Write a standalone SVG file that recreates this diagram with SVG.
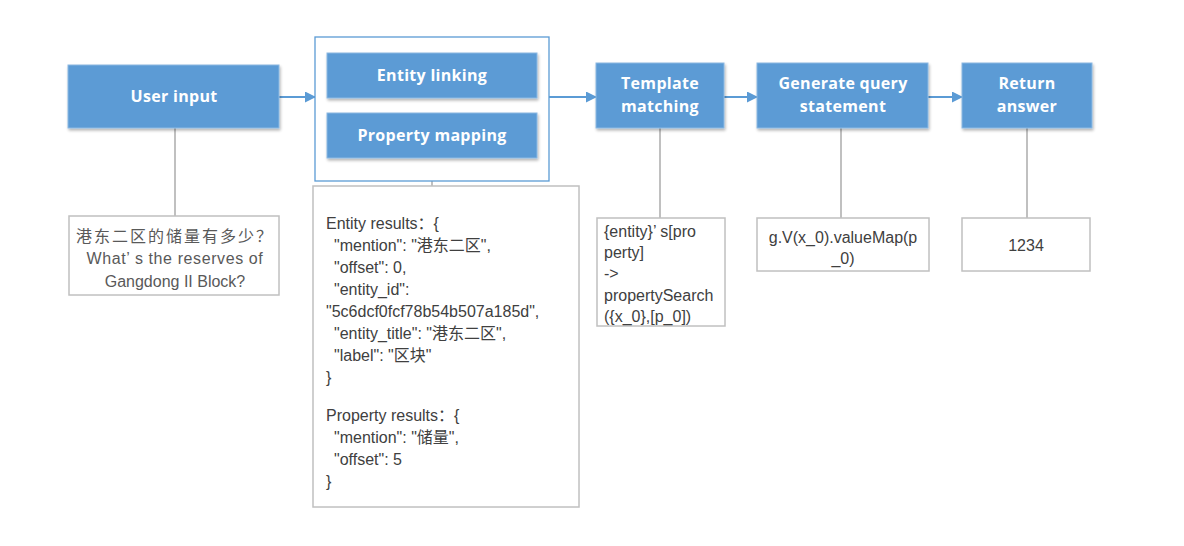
<svg xmlns="http://www.w3.org/2000/svg" width="1184" height="546" viewBox="0 0 1184 546">
<defs>
<marker id="arr" markerWidth="11" markerHeight="11" refX="10" refY="5.5" orient="auto" markerUnits="userSpaceOnUse">
<path d="M0,0 L11,5.5 L0,11 Z" fill="#5b9bd5"/>
</marker>
<filter id="sh" x="-10%" y="-10%" width="130%" height="140%">
<feGaussianBlur in="SourceAlpha" stdDeviation="1.5"/>
<feOffset dx="1" dy="2" result="b"/>
<feComponentTransfer><feFuncA type="linear" slope="0.3"/></feComponentTransfer>
<feMerge><feMergeNode/><feMergeNode in="SourceGraphic"/></feMerge>
</filter>
<style>
.blue{fill:#5b9bd5;stroke:#8cb8e2;stroke-width:1;filter:url(#sh)}
.grp{fill:#ffffff;stroke:#5b9bd5;stroke-width:1.3}
.gray{fill:#ffffff;stroke:#c0c0c0;stroke-width:1.5}
.bt{font-family:"Open Sans","Liberation Sans",sans-serif;font-weight:bold;font-size:16px;letter-spacing:0.3px;fill:#ffffff;text-anchor:middle}
.gt{font-family:"Liberation Sans","Noto Sans CJK SC",sans-serif;font-size:16px;fill:#404040}
.qt{font-family:"Liberation Sans","Noto Sans CJK SC",sans-serif;font-size:16px;fill:#595959;text-anchor:middle}
.ln{stroke:#c0c0c0;stroke-width:2;fill:none}
.ar{stroke:#5b9bd5;stroke-width:2;fill:none;marker-end:url(#arr)}
</style>
</defs>
<rect width="1184" height="546" fill="#ffffff"/>
<g id="connectors">
<line class="ar" x1="279" y1="97" x2="315" y2="97"/>
<line class="ar" x1="549" y1="97" x2="596" y2="97"/>
<line class="ar" x1="724" y1="97" x2="757" y2="97"/>
<line class="ar" x1="928" y1="97" x2="962" y2="97"/>
<line class="ln" x1="175" y1="128" x2="175" y2="216"/>
<line class="ln" x1="432" y1="181" x2="432" y2="186"/>
<line class="ln" x1="660" y1="128" x2="660" y2="218"/>
<line class="ln" x1="841" y1="128" x2="841" y2="218"/>
<line class="ln" x1="1027" y1="128" x2="1027" y2="218"/>
</g>
<g id="user-input">
<rect class="blue" x="68" y="65" width="211" height="63"/>
<text class="bt" x="174" y="102">User input</text>
</g>
<g id="linking-group">
<rect class="grp" x="315" y="37" width="234" height="144"/>
<g id="entity-linking">
<rect class="blue" x="327" y="53" width="210" height="45"/>
<text class="bt" x="432" y="81">Entity linking</text>
</g>
<g id="property-mapping">
<rect class="blue" x="327" y="113" width="210" height="45"/>
<text class="bt" x="432" y="141">Property mapping</text>
</g>
</g>
<g id="template-matching">
<rect class="blue" x="596" y="63" width="128" height="65"/>
<text class="bt" x="660" y="89">Template</text>
<text class="bt" x="660" y="112">matching</text>
</g>
<g id="generate-query">
<rect class="blue" x="757" y="63" width="171" height="65"/>
<text class="bt" x="843" y="89">Generate query</text>
<text class="bt" x="843" y="112">statement</text>
</g>
<g id="return-answer">
<rect class="blue" x="962" y="63" width="130" height="65"/>
<text class="bt" x="1027" y="89">Return</text>
<text class="bt" x="1027" y="112">answer</text>
</g>
<g id="question">
<rect class="gray" x="69" y="216" width="210" height="79"/>
<text class="qt" x="175" y="242" letter-spacing="2">港东二区的储量有多少？</text>
<text class="qt" x="175" y="264" letter-spacing="0.6">What’ s the reserves of</text>
<text class="qt" x="175" y="287">Gangdong II Block?</text>
</g>
<g id="entity-results">
<rect class="gray" x="313" y="186" width="266" height="321"/>
<text class="gt" x="326" y="229">Entity results：{</text>
<text class="gt" x="334" y="251">"mention": "港东二区",</text>
<text class="gt" x="334" y="273">"offset": 0,</text>
<text class="gt" x="334" y="295">"entity_id":</text>
<text class="gt" x="326" y="317">"5c6dcf0fcf78b54b507a185d",</text>
<text class="gt" x="334" y="339">"entity_title": "港东二区",</text>
<text class="gt" x="334" y="361">"label": "区块"</text>
<text class="gt" x="326" y="383">}</text>
<text class="gt" x="326" y="421">Property results：{</text>
<text class="gt" x="334" y="443">"mention": "储量",</text>
<text class="gt" x="334" y="465">"offset": 5</text>
<text class="gt" x="326" y="487">}</text>
</g>
<g id="template-result">
<rect class="gray" x="597" y="218" width="128" height="108"/>
<text class="gt" x="604" y="237">{entity}’ s[pro</text>
<text class="gt" x="604" y="258">perty]</text>
<text class="gt" x="604" y="279">-&gt;</text>
<text class="gt" x="604" y="301">propertySearch</text>
<text class="gt" x="604" y="322">({x_0},[p_0])</text>
</g>
<g id="query-result">
<rect class="gray" x="757" y="218" width="172" height="53"/>
<text class="gt" x="843" y="243" text-anchor="middle">g.V(x_0).valueMap(p</text>
<text class="gt" x="843" y="264" text-anchor="middle">_0)</text>
</g>
<g id="answer-result">
<rect class="gray" x="962" y="218" width="128" height="53"/>
<text class="gt" x="1026" y="251" text-anchor="middle">1234</text>
</g>
</svg>
